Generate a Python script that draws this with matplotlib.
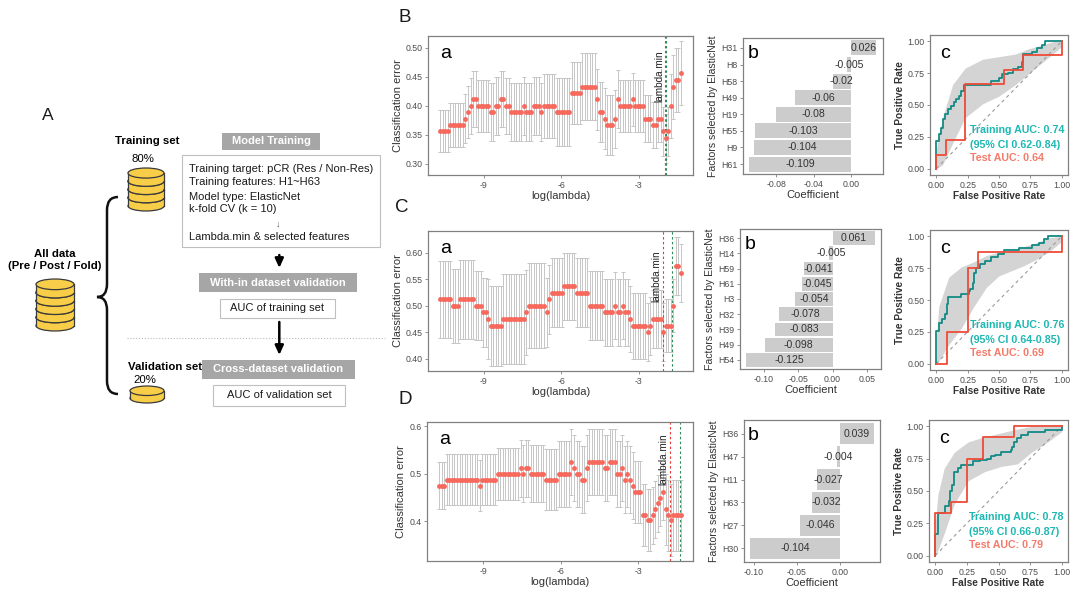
import numpy as np
import matplotlib
matplotlib.use("Agg")
import matplotlib.pyplot as plt
from matplotlib.patches import Ellipse, Rectangle, PathPatch
from matplotlib.path import Path

plt.rcParams['font.family'] = ['Liberation Sans', 'DejaVu Sans']

# ------------------------------------------------------------------ data
LOGLAM_FIRST, LOGLAM_LAST = -10.70, -1.36
CV_XTICKS = [-9, -6, -3]
CV_XTICKLABELS = ['-9', '-6', '-3']

B_cv_mean = [
    0.356, 0.356, 0.356, 0.356, 0.367, 0.367, 0.367, 0.367, 0.367, 0.367,
    0.378, 0.389, 0.400, 0.411, 0.411, 0.400, 0.400, 0.400, 0.400, 0.400,
    0.389, 0.389, 0.400, 0.400, 0.411, 0.411, 0.400, 0.400, 0.389, 0.389,
    0.389, 0.389, 0.389, 0.400, 0.389, 0.389, 0.389, 0.400, 0.400, 0.400,
    0.389, 0.400, 0.400, 0.400, 0.400, 0.400, 0.389, 0.389, 0.389, 0.389,
    0.389, 0.389, 0.422, 0.422, 0.422, 0.422, 0.433, 0.433, 0.433, 0.433,
    0.433, 0.433, 0.411, 0.389, 0.389, 0.378, 0.367, 0.367, 0.367, 0.378,
    0.411, 0.400, 0.400, 0.400, 0.400, 0.400, 0.411, 0.400, 0.400, 0.400,
    0.400, 0.378, 0.378, 0.378, 0.367, 0.367, 0.378, 0.378, 0.356, 0.344,
    0.356, 0.400, 0.433, 0.444, 0.444, 0.456]
B_cv_se = [
    0.036, 0.036, 0.036, 0.036, 0.037, 0.037, 0.037, 0.037, 0.037, 0.037,
    0.042, 0.045, 0.048, 0.048, 0.048, 0.045, 0.045, 0.045, 0.045, 0.045,
    0.050, 0.050, 0.050, 0.050, 0.048, 0.048, 0.048, 0.048, 0.050, 0.050,
    0.050, 0.050, 0.050, 0.050, 0.050, 0.050, 0.050, 0.050, 0.050, 0.050,
    0.050, 0.055, 0.055, 0.055, 0.055, 0.055, 0.058, 0.058, 0.058, 0.058,
    0.058, 0.058, 0.053, 0.053, 0.053, 0.053, 0.058, 0.058, 0.058, 0.058,
    0.058, 0.058, 0.052, 0.052, 0.052, 0.052, 0.052, 0.052, 0.052, 0.050,
    0.050, 0.045, 0.045, 0.045, 0.045, 0.045, 0.045, 0.045, 0.045, 0.045,
    0.045, 0.040, 0.040, 0.040, 0.040, 0.040, 0.040, 0.040, 0.042, 0.042,
    0.042, 0.055, 0.055, 0.055, 0.055, 0.055]
B_lambda_min, B_lambda_1se = -1.97, -1.93

C_cv_mean = [
    0.512, 0.512, 0.512, 0.512, 0.512, 0.500, 0.500, 0.500, 0.512, 0.512,
    0.512, 0.512, 0.512, 0.512, 0.500, 0.500, 0.500, 0.488, 0.488, 0.475,
    0.462, 0.462, 0.462, 0.462, 0.462, 0.475, 0.475, 0.475, 0.475, 0.475,
    0.475, 0.475, 0.475, 0.475, 0.488, 0.500, 0.500, 0.500, 0.500, 0.500,
    0.500, 0.500, 0.488, 0.512, 0.525, 0.525, 0.525, 0.525, 0.525, 0.537,
    0.537, 0.537, 0.537, 0.537, 0.525, 0.525, 0.525, 0.525, 0.525, 0.500,
    0.500, 0.500, 0.500, 0.500, 0.500, 0.488, 0.488, 0.488, 0.488, 0.500,
    0.488, 0.488, 0.500, 0.488, 0.488, 0.475, 0.462, 0.462, 0.462, 0.462,
    0.462, 0.462, 0.450, 0.462, 0.475, 0.475, 0.475, 0.475, 0.450, 0.462,
    0.462, 0.462, 0.500, 0.575, 0.575, 0.562]
C_cv_se = [
    0.072, 0.072, 0.072, 0.072, 0.072, 0.070, 0.070, 0.070, 0.075, 0.075,
    0.075, 0.075, 0.075, 0.075, 0.065, 0.065, 0.065, 0.065, 0.065, 0.075,
    0.075, 0.075, 0.075, 0.075, 0.075, 0.085, 0.085, 0.085, 0.085, 0.085,
    0.085, 0.085, 0.085, 0.085, 0.080, 0.080, 0.080, 0.080, 0.080, 0.080,
    0.080, 0.080, 0.065, 0.065, 0.065, 0.065, 0.065, 0.065, 0.065, 0.063,
    0.063, 0.063, 0.063, 0.063, 0.065, 0.065, 0.065, 0.065, 0.065, 0.065,
    0.065, 0.065, 0.065, 0.065, 0.065, 0.063, 0.063, 0.063, 0.063, 0.063,
    0.063, 0.063, 0.063, 0.063, 0.063, 0.063, 0.063, 0.063, 0.063, 0.063,
    0.063, 0.063, 0.055, 0.055, 0.055, 0.055, 0.055, 0.055, 0.055, 0.050,
    0.050, 0.050, 0.050, 0.055, 0.055, 0.055]
C_lambda_min, C_lambda_1se = -2.05, -1.69

D_cv_mean = [
    0.475, 0.475, 0.475, 0.488, 0.488, 0.488, 0.488, 0.488, 0.488, 0.488,
    0.488, 0.488, 0.488, 0.488, 0.488, 0.488, 0.475, 0.488, 0.488, 0.488,
    0.488, 0.488, 0.488, 0.500, 0.500, 0.500, 0.500, 0.500, 0.500, 0.500,
    0.500, 0.500, 0.512, 0.500, 0.512, 0.512, 0.500, 0.500, 0.500, 0.500,
    0.500, 0.500, 0.488, 0.488, 0.488, 0.488, 0.488, 0.500, 0.500, 0.500,
    0.500, 0.500, 0.525, 0.512, 0.500, 0.500, 0.488, 0.488, 0.512, 0.525,
    0.525, 0.525, 0.525, 0.525, 0.525, 0.512, 0.512, 0.525, 0.525, 0.525,
    0.500, 0.500, 0.512, 0.488, 0.500, 0.488, 0.475, 0.462, 0.462, 0.462,
    0.413, 0.413, 0.403, 0.403, 0.413, 0.425, 0.438, 0.450, 0.462, 0.425,
    0.413, 0.403, 0.413, 0.413, 0.413, 0.413]
D_cv_se = [
    0.050, 0.050, 0.050, 0.053, 0.053, 0.053, 0.053, 0.053, 0.053, 0.053,
    0.053, 0.053, 0.053, 0.053, 0.053, 0.053, 0.053, 0.053, 0.053, 0.053,
    0.053, 0.053, 0.053, 0.055, 0.055, 0.055, 0.055, 0.055, 0.055, 0.055,
    0.055, 0.055, 0.060, 0.060, 0.060, 0.060, 0.060, 0.060, 0.060, 0.060,
    0.060, 0.060, 0.065, 0.065, 0.065, 0.065, 0.065, 0.070, 0.070, 0.070,
    0.070, 0.070, 0.070, 0.070, 0.070, 0.070, 0.070, 0.070, 0.070, 0.070,
    0.070, 0.070, 0.070, 0.070, 0.070, 0.070, 0.070, 0.070, 0.070, 0.070,
    0.070, 0.070, 0.070, 0.070, 0.070, 0.070, 0.070, 0.065, 0.065, 0.065,
    0.065, 0.065, 0.065, 0.065, 0.060, 0.060, 0.060, 0.060, 0.060, 0.075,
    0.075, 0.075, 0.075, 0.075, 0.075, 0.075]
D_lambda_min, D_lambda_1se = -1.76, -1.38

# coefficient bar charts (top to bottom)
B_factors = ['H31', 'H8', 'H58', 'H49', 'H19', 'H55', 'H9', 'H61']
B_coefs = [0.026, -0.005, -0.02, -0.06, -0.08, -0.103, -0.104, -0.109]
C_factors = ['H36', 'H14', 'H59', 'H61', 'H3', 'H32', 'H39', 'H49', 'H54']
C_coefs = [0.061, -0.005, -0.041, -0.045, -0.054, -0.078, -0.083, -0.098, -0.125]
D_factors = ['H36', 'H47', 'H11', 'H63', 'H27', 'H30']
D_coefs = [0.039, -0.004, -0.027, -0.032, -0.046, -0.104]

# ROC curves (corner points, horizontal step first)
B_train_fpr = [0, 0, 0.02, 0.04, 0.05, 0.07, 0.09, 0.12, 0.14, 0.16, 0.18, 0.20, 0.22,
               0.43, 0.44, 0.50, 0.52, 0.57, 0.61, 0.65, 0.68, 0.69, 0.76, 0.80, 0.84, 0.87, 1.0]
B_train_tpr = [0, 0.22, 0.27, 0.32, 0.39, 0.43, 0.47, 0.49, 0.52, 0.55, 0.57, 0.61, 0.66,
               0.66, 0.69, 0.71, 0.74, 0.75, 0.78, 0.80, 0.84, 0.90, 0.92, 0.95, 0.97, 1.0, 1.0]
B_test_fpr = [0, 0, 0.077, 0.231, 0.538, 0.692, 1.0]
B_test_tpr = [0, 0.111, 0.222, 0.667, 0.778, 0.889, 1.0]
B_band_fpr = [0, 0.05, 0.13, 0.23, 0.37, 0.50, 0.63, 0.73, 0.84, 0.94, 1.0]
B_band_lo = [0, 0.03, 0.20, 0.40, 0.51, 0.57, 0.66, 0.74, 0.83, 0.91, 0.96]
B_band_hi = [0.15, 0.40, 0.66, 0.79, 0.86, 0.88, 0.90, 0.94, 0.97, 1.0, 1.0]
B_auc = ('0.74', '0.62-0.84', '0.64')

C_train_fpr = [0, 0, 0.02, 0.045, 0.066, 0.084, 0.09, 0.20, 0.26, 0.27, 0.29, 0.30,
               0.32, 0.35, 0.39, 0.44, 0.49, 0.54, 0.66, 0.76, 0.82, 0.86, 0.89, 1.0]
C_train_tpr = [0, 0.26, 0.32, 0.35, 0.39, 0.47, 0.52, 0.55, 0.57, 0.59, 0.63, 0.71,
               0.75, 0.78, 0.81, 0.84, 0.86, 0.89, 0.91, 0.93, 0.95, 0.98, 1.0, 1.0]
C_test_fpr = [0, 0.083, 0.25, 0.333, 1.0]
C_test_tpr = [0, 0.25, 0.75, 0.875, 1.0]
C_band_fpr = [0, 0.02, 0.1, 0.2, 0.3, 0.4, 0.5, 0.6, 0.7, 0.8, 0.9, 1.0]
C_band_lo = [0, 0.02, 0.15, 0.28, 0.45, 0.60, 0.69, 0.73, 0.77, 0.82, 0.88, 0.96]
C_band_hi = [0.20, 0.45, 0.68, 0.76, 0.80, 0.85, 0.875, 0.895, 0.92, 0.95, 0.99, 1.0]
C_auc = ('0.76', '0.64-0.85', '0.69')

D_train_fpr = [0, 0, 0.02, 0.05, 0.08, 0.11, 0.12, 0.13, 0.15, 0.18, 0.20, 0.30, 0.35,
               0.41, 0.44, 0.47, 0.52, 0.60, 0.61, 0.62, 0.65, 0.68, 0.73, 0.87, 1.0]
D_train_tpr = [0, 0.17, 0.33, 0.33, 0.38, 0.42, 0.50, 0.55, 0.65, 0.68, 0.70, 0.73, 0.74,
               0.75, 0.77, 0.78, 0.80, 0.82, 0.84, 0.88, 0.91, 0.93, 0.955, 0.975, 1.0]
D_test_fpr = [0, 0, 0.125, 0.25, 0.375, 0.625, 1.0]
D_test_tpr = [0, 0.333, 0.417, 0.75, 0.917, 1.0, 1.0]
D_band_fpr = [0, 0.02, 0.07, 0.15, 0.26, 0.39, 0.52, 0.65, 0.76, 0.89, 1.0]
D_band_lo = [0, 0.04, 0.17, 0.40, 0.58, 0.65, 0.69, 0.71, 0.80, 0.88, 0.96]
D_band_hi = [0.25, 0.47, 0.675, 0.80, 0.88, 0.92, 0.95, 0.98, 1.0, 1.0, 1.0]
D_auc = ('0.78', '0.66-0.87', '0.79')

ROC_TICKS = [0, 0.25, 0.5, 0.75, 1.0]
ROC_TICKLABELS = ['0.00', '0.25', '0.50', '0.75', '1.00']

# ------------------------------------------------------------------ style
CV_DOT = '#F6695C'
CV_BAR = '#C6C6C6'
RED_LINE = '#E53B2F'
GREEN_LINE = '#2E8B57'
TEAL = '#138A85'
TEAL_TXT = '#1DB8B2'
RED = '#EF4B37'
RED_TXT = '#F47A6A'
BAR_FILL = '#CCCCCC'
SPINE = '#808080'
TICKTXT = '#4D4D4D'
TITLE = '#333333'
TICKSIZE = 6.3

W, H = 1080, 603
fig = plt.figure(figsize=(W / 100, H / 100), dpi=100)
fig.patch.set_facecolor('white')


def px_axes(l, t, r, b):
    return fig.add_axes([l / W, 1 - b / H, (r - l) / W, (b - t) / H])


def style_axes(ax):
    for s in ax.spines.values():
        s.set_color(SPINE)
        s.set_linewidth(0.9)
    ax.tick_params(direction='out', length=2.5, width=0.6, color=SPINE,
                   labelsize=TICKSIZE, labelcolor=TICKTXT, pad=1.5)


def cv_panel(ax, mean, se, ylim, yticks, yticklabels, lam_min, lam_1se, txt_x, txt_top):
    x = np.linspace(LOGLAM_FIRST, LOGLAM_LAST, len(mean))
    ax.errorbar(x, mean, yerr=se, fmt='none', ecolor=CV_BAR, elinewidth=0.7,
                capsize=1.4, capthick=0.7, zorder=1)
    ax.plot(x, mean, 'o', ms=3.5, color=CV_DOT, mec='none', zorder=3)
    ax.axvline(lam_min, color=RED_LINE, ls=(0, (2.2, 2.2)), lw=0.8, zorder=2)
    ax.axvline(lam_1se, color=GREEN_LINE, ls=(0, (2.2, 2.2)), lw=0.8, zorder=2)
    ax.text(txt_x, txt_top, 'lambda.min', rotation=90, ha='center', va='top',
            fontsize=7.2, color='#222222', zorder=4)
    ax.set_xlim(-11.17, -0.89)
    ax.set_ylim(*ylim)
    ax.set_xticks(CV_XTICKS)
    ax.set_xticklabels(CV_XTICKLABELS)
    ax.set_yticks(yticks)
    ax.set_yticklabels(yticklabels)
    ax.set_xlabel('log(lambda)', fontsize=8, color=TITLE, labelpad=1)
    ax.set_ylabel('Classification error', fontsize=8, color=TITLE, labelpad=2)
    style_axes(ax)
    ax.text(0.045, 0.935, 'a', transform=ax.transAxes, fontsize=14, va='top', ha='left')


def bar_panel(ax, names, vals, xlim, xticks, xticklabels):
    n = len(names)
    pos = np.arange(n)[::-1]
    ax.barh(pos, vals, height=0.9, color=BAR_FILL, zorder=1)
    for p, v in zip(pos, vals):
        ax.text(v / 2, p, f'{v:g}', ha='center', va='center', fontsize=7.6,
                color=TITLE, zorder=3)
    ax.set_yticks(pos)
    ax.set_yticklabels(names)
    ax.set_ylim(-0.6, n - 0.4)
    ax.set_xlim(*xlim)
    ax.set_xticks(xticks)
    ax.set_xticklabels(xticklabels)
    ax.set_xlabel('Coefficient', fontsize=8, color=TITLE, labelpad=1)
    ax.set_ylabel('Factors selected by ElasticNet', fontsize=7.6, color=TITLE, labelpad=2)
    style_axes(ax)
    ax.text(0.03, 0.95, 'b', transform=ax.transAxes, fontsize=14, va='top', ha='left', zorder=5)


def roc_panel(ax, bf, blo, bhi, trf, trt, tef, tet, auc):
    ax.fill_between(bf, blo, bhi, color='#D4D4D4', lw=0, zorder=1)
    ax.plot([0, 1], [0, 1], ls=(0, (3, 3)), color='#9A9A9A', lw=0.8, zorder=2)
    ax.plot(trf, trt, drawstyle='steps-post', color=TEAL, lw=1.3, zorder=3)
    ax.plot(tef, tet, drawstyle='steps-post', color=RED, lw=1.3, zorder=4)
    ax.text(0.27, 0.30, f'Training AUC: {auc[0]}', color=TEAL_TXT, fontweight='bold',
            fontsize=7.7, va='center', ha='left', zorder=5, clip_on=False)
    ax.text(0.27, 0.185, f'(95% CI {auc[1]})', color=TEAL_TXT, fontweight='bold',
            fontsize=7.7, va='center', ha='left', zorder=5, clip_on=False)
    ax.text(0.27, 0.08, f'Test AUC: {auc[2]}', color=RED_TXT, fontweight='bold',
            fontsize=7.7, va='center', ha='left', zorder=5, clip_on=False)
    ax.set_xlim(-0.05, 1.05)
    ax.set_ylim(-0.05, 1.05)
    ax.set_xticks(ROC_TICKS)
    ax.set_xticklabels(ROC_TICKLABELS)
    ax.set_yticks(ROC_TICKS)
    ax.set_yticklabels(ROC_TICKLABELS)
    ax.set_xlabel('False Positive Rate', fontsize=7.3, color=TITLE, fontweight='bold', labelpad=1)
    ax.set_ylabel('True Positive Rate', fontsize=7.3, color=TITLE, fontweight='bold', labelpad=2)
    style_axes(ax)
    ax.text(0.07, 0.93, 'c', transform=ax.transAxes, fontsize=14, va='top', ha='left', zorder=6)


# ------------------------------------------------------------------ panel A (diagram)
ov = fig.add_axes([0, 0, 1, 1])
ov.set_xlim(0, W)
ov.set_ylim(H, 0)
ov.axis('off')

CYL_FILL = '#F8CD48'
CYL_EDGE = '#3A3A3A'


def cylinder(x0, x1, y0, y1, n):
    w = x1 - x0
    eh = w * 0.28
    t = (y1 - y0 - eh) / n
    cx = (x0 + x1) / 2
    for k in range(n):
        bc = y1 - eh / 2 - k * t
        tc = bc - t
        z = 10 + 3 * k
        ov.add_patch(Ellipse((cx, bc), w, eh, fc=CYL_FILL, ec=CYL_EDGE, lw=0.9, zorder=z))
        ov.add_patch(Rectangle((x0, tc), w, t, fc=CYL_FILL, ec='none', zorder=z + 1))
        ov.plot([x0, x0], [tc, bc], color=CYL_EDGE, lw=0.9, zorder=z + 1)
        ov.plot([x1, x1], [tc, bc], color=CYL_EDGE, lw=0.9, zorder=z + 1)
        ov.add_patch(Ellipse((cx, tc), w, eh, fc=CYL_FILL, ec=CYL_EDGE, lw=0.9, zorder=z + 2))


def grey_box(x0, y0, x1, y1, txt):
    ov.add_patch(Rectangle((x0, y0), x1 - x0, y1 - y0, fc='#A6A6A6', ec='none', zorder=5))
    ov.text((x0 + x1) / 2, (y0 + y1) / 2, txt, color='white', fontweight='bold',
            fontsize=8, ha='center', va='center', zorder=6)


def white_box(x0, y0, x1, y1, txt=None):
    ov.add_patch(Rectangle((x0, y0), x1 - x0, y1 - y0, fc='white', ec='#BFBFBF',
                           lw=0.8, zorder=5))
    if txt:
        ov.text((x0 + x1) / 2, (y0 + y1) / 2, txt, color='#1A1A1A',
                fontsize=8, ha='center', va='center', zorder=6)


ov.text(48, 116, 'A', fontsize=12.5, ha='center', va='center', color='#1A1A1A')
ov.text(147, 141, 'Training set', fontsize=8.2, fontweight='bold', ha='center', va='center')
ov.text(143, 159, '80%', fontsize=8.2, ha='center', va='center')
cylinder(128, 164, 168, 211, 4)
ov.text(55, 254, 'All data', fontsize=8.2, fontweight='bold', ha='center', va='center')
ov.text(55, 266, '(Pre / Post / Fold)', fontsize=8.2, fontweight='bold', ha='center', va='center')
cylinder(36, 74, 279, 331, 5)
ov.text(165, 367, 'Validation set', fontsize=8.2, fontweight='bold', ha='center', va='center')
ov.text(145, 380, '20%', fontsize=8.2, ha='center', va='center')
cylinder(130, 164, 386, 403, 1)

brace = Path([(118, 197), (107, 197), (107, 210), (107, 284), (107, 297), (97, 297),
              (107, 297), (107, 310), (107, 381), (107, 394), (118, 394)],
             [Path.MOVETO, Path.CURVE3, Path.CURVE3, Path.LINETO, Path.CURVE3, Path.CURVE3,
              Path.CURVE3, Path.CURVE3, Path.LINETO, Path.CURVE3, Path.CURVE3])
ov.add_patch(PathPatch(brace, fc='none', ec='#111111', lw=1.8, zorder=5))

grey_box(222, 133, 320, 149.5, 'Model Training')
white_box(182, 155, 380, 247)
for yy, line in zip([168.5, 182, 196.5, 209.5],
                    ['Training target: pCR (Res / Non-Res)', 'Training features: H1~H63',
                     'Model type: ElasticNet', 'k-fold CV (k = 10)']):
    ov.text(189, yy, line, fontsize=8, ha='left', va='center', color='#1A1A1A', zorder=7)
ov.text(278, 224, '\u2193', fontsize=6.5, ha='center', va='center', color='#555555', zorder=7)
ov.text(189, 237, 'Lambda.min & selected features', fontsize=8, ha='left', va='center',
        color='#1A1A1A', zorder=7)
ov.annotate('', xy=(279.3, 268), xytext=(279.3, 255),
            arrowprops=dict(arrowstyle='-|>,head_length=0.55,head_width=0.25',
                            color='black', lw=1.8, shrinkA=0, shrinkB=0))
grey_box(199, 273, 357, 292, 'With-in dataset validation')
white_box(220, 299, 335, 317.5, 'AUC of training set')
ov.plot([127, 385], [337.5, 337.5], ls=(0, (1, 1.6)), color='#BBBBBB', lw=0.8, zorder=3)
ov.annotate('', xy=(279.3, 355), xytext=(279.3, 322),
            arrowprops=dict(arrowstyle='-|>,head_length=0.55,head_width=0.25',
                            color='black', lw=1.8, shrinkA=0, shrinkB=0), zorder=6)
grey_box(202, 360, 355, 378.5, 'Cross-dataset validation')
white_box(213, 385, 345, 406, 'AUC of validation set')

for letter, (lx, ly) in zip('BCD', [(405, 17), (402, 207), (405, 400)]):
    ov.text(lx, ly, letter, fontsize=13.5, ha='center', va='center', color='#1A1A1A')

# ------------------------------------------------------------------ row B
ax = px_axes(428, 36, 693, 175)
cv_panel(ax, B_cv_mean, B_cv_se, (0.281, 0.520), [0.30, 0.35, 0.40, 0.45, 0.50],
         ['0.30', '0.35', '0.40', '0.45', '0.50'], B_lambda_min, B_lambda_1se, -2.2, 0.496)
ax = px_axes(743, 38, 883, 174)
bar_panel(ax, B_factors, B_coefs, (-0.1158, 0.0340), [-0.08, -0.04, 0.0],
          ['-0.08', '-0.04', '0.00'])
ax = px_axes(930, 35, 1068, 175)
roc_panel(ax, B_band_fpr, B_band_lo, B_band_hi, B_train_fpr, B_train_tpr,
          B_test_fpr, B_test_tpr, B_auc)

# ------------------------------------------------------------------ row C
ax = px_axes(428, 231, 693, 371)
cv_panel(ax, C_cv_mean, C_cv_se, (0.377, 0.641), [0.40, 0.45, 0.50, 0.55, 0.60],
         ['0.40', '0.45', '0.50', '0.55', '0.60'], C_lambda_min, C_lambda_1se, -2.3, 0.605)
ax = px_axes(740, 229, 881, 369)
bar_panel(ax, C_factors, C_coefs, (-0.1343, 0.0703), [-0.10, -0.05, 0.0, 0.05],
          ['-0.10', '-0.05', '0.00', '0.05'])
ax = px_axes(930, 230, 1068, 370)
roc_panel(ax, C_band_fpr, C_band_lo, C_band_hi, C_train_fpr, C_train_tpr,
          C_test_fpr, C_test_tpr, C_auc)

# ------------------------------------------------------------------ row D
ax = px_axes(427, 422, 693, 561)
cv_panel(ax, D_cv_mean, D_cv_se, (0.3165, 0.609), [0.4, 0.5, 0.6],
         ['0.4', '0.5', '0.6'], D_lambda_min, D_lambda_1se, -2.02, 0.586)
ax = px_axes(744, 420, 880, 562)
bar_panel(ax, D_factors, D_coefs, (-0.1112, 0.0462), [-0.10, -0.05, 0.0],
          ['-0.10', '-0.05', '0.00'])
ax = px_axes(929, 420, 1068, 562)
roc_panel(ax, D_band_fpr, D_band_lo, D_band_hi, D_train_fpr, D_train_tpr,
          D_test_fpr, D_test_tpr, D_auc)

fig.savefig('out.png', dpi=100, facecolor='white')
